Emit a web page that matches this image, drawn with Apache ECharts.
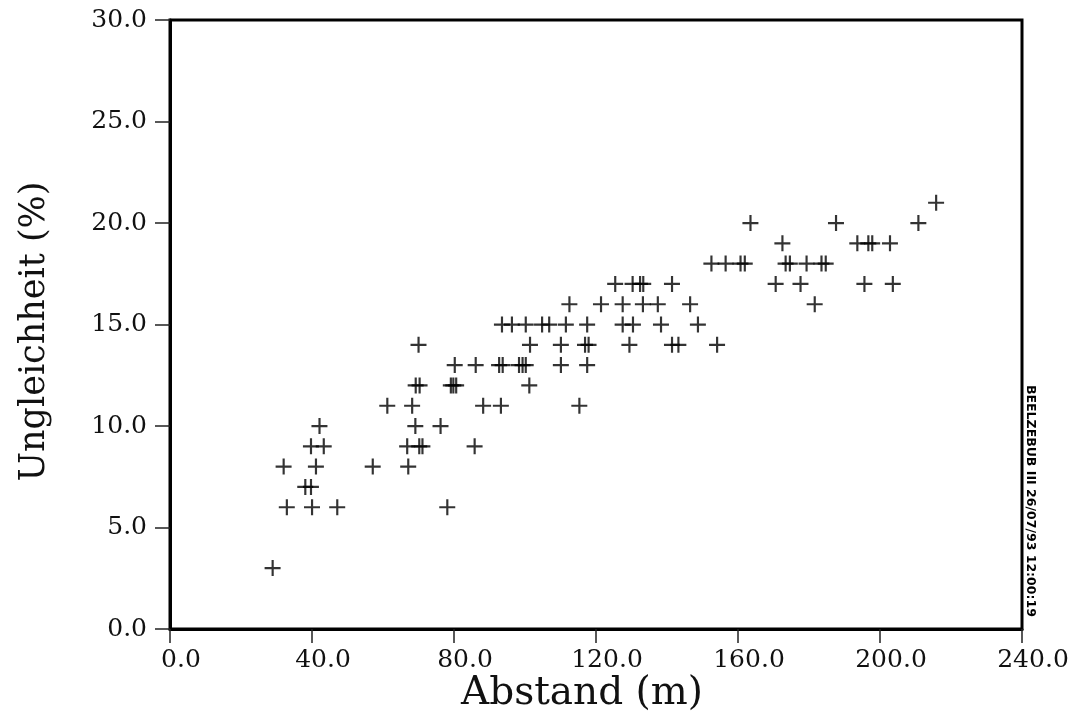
<!DOCTYPE html>
<html>
<head>
<meta charset="utf-8">
<script src="https://cdn.jsdelivr.net/npm/echarts@6/dist/echarts.min.js"></script>
<style>
html,body{margin:0;padding:0;background:#fff;}
#chart{width:1073px;height:721px;}
</style>
</head>
<body>
<div id="chart"></div>
<script>
// Abstand (m)
const abstand = [
  28.9,
  32.9, 40.0, 47.1, 78.1,
  38.1, 39.7,
  32.0, 41.1, 57.1, 67.1,
  39.7, 43.3, 66.8, 70.2, 71.1, 85.8,
  42.1, 69.1, 76.2,
  61.2, 68.2, 88.2, 93.2, 115.3,
  69.2, 70.3, 79.1, 79.8, 80.6, 101.2,
  80.2, 86.1, 92.7, 93.7, 98.3, 99.3, 100.2, 110.1, 117.5,
  70.0, 101.4, 110.1, 116.9, 117.9, 129.4, 141.4, 143.2, 154.1,
  93.5, 96.3, 100.2, 104.8, 106.8, 111.5, 117.5, 127.5, 130.4, 138.3, 148.7,
  112.5, 121.4, 127.5, 133.2, 137.4, 146.5, 181.6,
  125.4, 130.3, 132.4, 133.3, 141.4, 170.6, 177.6, 195.6, 203.6,
  152.5, 156.5, 160.7, 161.9, 173.4, 174.6, 179.3, 183.5, 184.7,
  172.5, 193.6, 196.7, 197.8, 202.8,
  163.5, 187.6, 210.8,
  215.8
];
// Ungleichheit (%)
const ungleichheit = [
  3,
  6, 6, 6, 6,
  7, 7,
  8, 8, 8, 8,
  9, 9, 9, 9, 9, 9,
  10, 10, 10,
  11, 11, 11, 11, 11,
  12, 12, 12, 12, 12, 12,
  13, 13, 13, 13, 13, 13, 13, 13, 13,
  14, 14, 14, 14, 14, 14, 14, 14, 14,
  15, 15, 15, 15, 15, 15, 15, 15, 15, 15, 15,
  16, 16, 16, 16, 16, 16, 16,
  17, 17, 17, 17, 17, 17, 17, 17, 17,
  18, 18, 18, 18, 18, 18, 18, 18, 18,
  19, 19, 19, 19, 19,
  20, 20, 20,
  21
];
const xTicks = {min: 0, max: 240, interval: 40};
const yTicks = {min: 0, max: 30, interval: 5};
const xName = 'Abstand (m)';
const yName = 'Ungleichheit (%)';
const stamp = 'BEELZEBUB III 26/07/93 12:00:19';

const points = abstand.map((x, i) => [x, ungleichheit[i]]);

const chart = echarts.init(document.getElementById('chart'), null, {renderer: 'canvas'});
const tickFont = {fontFamily: 'DejaVu Serif', fontSize: 25, color: '#111'};
chart.setOption({
  animation: false,
  backgroundColor: '#fff',
  grid: {left: 170, right: 51, top: 20, bottom: 92, show: true, borderColor: '#000', borderWidth: 3, backgroundColor: 'transparent'},
  xAxis: {
    type: 'value', min: xTicks.min, max: xTicks.max, interval: xTicks.interval,
    name: xName, nameLocation: 'middle', nameGap: 45, nameMoveOverlap: false,
    nameTextStyle: {fontFamily: 'DejaVu Serif', fontSize: 39, color: '#111', padding: [0, 28, 0, 0]},
    axisLine: {show: true, lineStyle: {color: '#000', width: 3}},
    axisTick: {show: true, inside: false, length: 14, lineStyle: {color: '#222', width: 1.5}},
    axisLabel: Object.assign({margin: 19, formatter: v => v.toFixed(1), padding: [0, 0, 0, 22]}, tickFont),
    splitLine: {show: false}
  },
  yAxis: {
    type: 'value', min: yTicks.min, max: yTicks.max, interval: yTicks.interval,
    name: yName, nameLocation: 'middle', nameGap: 118, nameRotate: 90, nameMoveOverlap: false,
    nameTextStyle: {fontFamily: 'DejaVu Serif', fontSize: 35, color: '#111', padding: [0, 14, 0, 0]},
    axisLine: {show: true, lineStyle: {color: '#000', width: 3}},
    axisTick: {show: true, inside: false, length: 15, lineStyle: {color: '#222', width: 1.5}},
    axisLabel: Object.assign({margin: 23, formatter: v => v.toFixed(1)}, tickFont),
    splitLine: {show: false}
  },
  graphic: [{
    type: 'text', left: 1024, top: 385,
    rotation: -Math.PI / 2,
    originX: 0, originY: 0,
    style: {text: stamp, fontFamily: 'DejaVu Sans', fontWeight: 'bold', fontSize: 12.5, fill: '#000'}
  }],
  series: [{
    type: 'scatter',
    data: points,
    symbol: 'path://M0,6.1h14v1.9h-14z M6.1,0h1.9v14h-1.9z',
    symbolSize: 16,
    itemStyle: {color: '#000'},
    silent: true
  }]
});
</script>
</body>
</html>
